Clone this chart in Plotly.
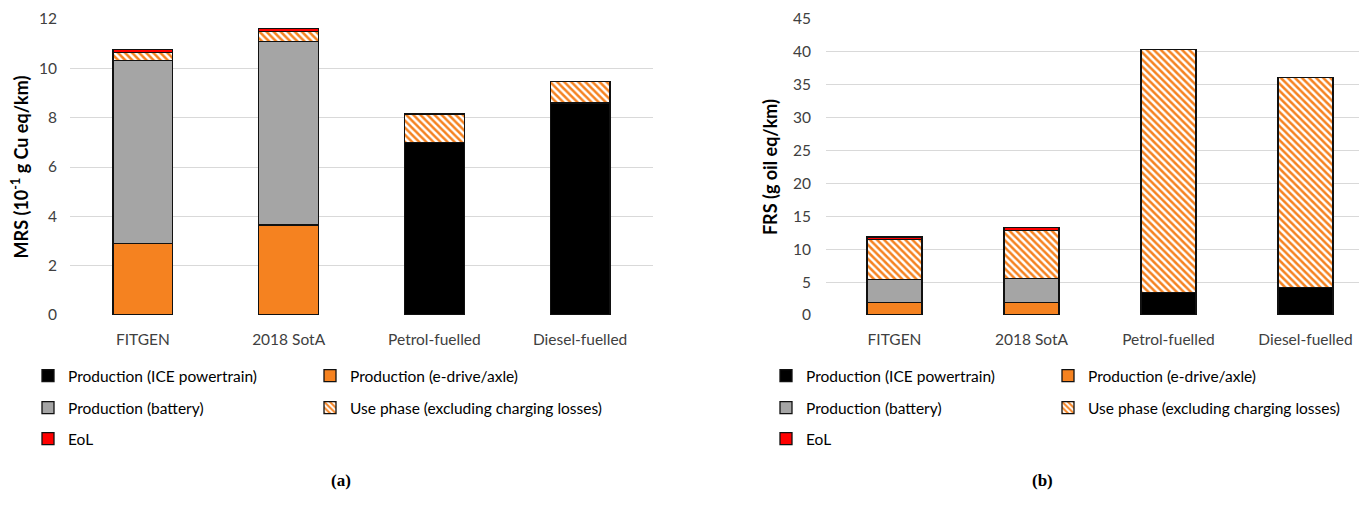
import plotly.graph_objects as go

categories = ["FITGEN", "2018 SotA", "Petrol-fuelled", "Diesel-fuelled"]
series_names = ["Production (ICE powertrain)", "Production (e-drive/axle)",
                "Production (battery)", "Use phase (excluding charging losses)", "EoL"]

# Panel (a): MRS (10^-1 g Cu eq/km)
mrs_ice = [0, 0, 7.0, 8.6]
mrs_edrive = [2.9, 3.65, 0, 0]
mrs_battery = [7.42, 7.44, 0, 0]
mrs_use = [0.32, 0.40, 1.15, 0.88]
mrs_eol = [0.12, 0.12, 0, 0]

# Panel (b): FRS (g oil eq/km)
frs_ice = [0, 0, 3.4, 4.2]
frs_edrive = [1.9, 1.95, 0, 0]
frs_battery = [3.45, 3.55, 0, 0]
frs_use = [6.15, 7.4, 37.0, 31.9]
frs_eol = [0.35, 0.4, 0, 0]

yticks_a = [0, 2, 4, 6, 8, 10, 12]
yticks_b = [0, 5, 10, 15, 20, 25, 30, 35, 40, 45]

ORANGE = "#F58220"
GREY = "#A5A5A5"
RED = "#FF0000"
BLACK = "#000000"
FONT = "Lato"

styles = [
    dict(color=BLACK),
    dict(color=ORANGE),
    dict(color=GREY),
    dict(color="white", pattern=dict(shape="\\", fgcolor=ORANGE, bgcolor="white",
                                     size=5, solidity=0.5, fillmode="replace",
                                     fgopacity=1)),
    dict(color=RED),
]
# legend grid position of each series: (column, row)
legend_cells = [(0, 0), (1, 0), (0, 1), (1, 1), (0, 2)]

# page body has an 8px margin: figure sized to fit the window exactly
OFF = 8
W, H = 1367 - 2 * OFF, 509 - 2 * OFF
def px_x(p):
    return (p - OFF) / W
def px_y(p):
    return 1 - (p - OFF) / H

fig = go.Figure()

panels = [
    ("x", "y", [mrs_ice, mrs_edrive, mrs_battery, mrs_use, mrs_eol], 0.41, 28),
    ("x2", "y2", [frs_ice, frs_edrive, frs_battery, frs_use, frs_eol], 0.40, 766),
]
rows_y = [376, 408, 439]
col_dx = 282
layout_legends = {}
n = 0
for xa, ya, data, bw, lx in panels:
    for i, (name, vals) in enumerate(zip(series_names, data)):
        n += 1
        key = "legend" if n == 1 else f"legend{n}"
        m = dict(styles[i])
        m["line"] = dict(color="#111111", width=1.3)
        fig.add_trace(go.Bar(
            x=categories, y=vals, name=name, xaxis=xa, yaxis=ya,
            marker=m, width=bw, legend=key, hoverinfo="skip",
        ))
        c, r = legend_cells[i]
        layout_legends[key] = dict(
            x=px_x(lx + c * col_dx), y=px_y(rows_y[r]), xanchor="left", yanchor="middle",
            orientation="h",
            font=dict(family=FONT, size=15.5, color="#000000"),
            bgcolor="rgba(0,0,0,0)", itemwidth=30,
            itemclick=False, itemdoubleclick=False,
        )

ydom = [px_y(315), px_y(19)]
tickfont = dict(family=FONT, size=15.5, color="#404040")
titlefont = dict(family=FONT, size=18, color="#000000")
grid = "#D9D9D9"

cat_px_b = 137.0
xb0, xb1 = 826, 1367 - OFF
range_b_end = -0.5 + (xb1 - xb0) / cat_px_b

fig.update_layout(
    width=W, height=H, autosize=False,
    margin=dict(l=0, r=0, t=0, b=0),
    paper_bgcolor="white", plot_bgcolor="white",
    barmode="stack", bargap=0.59,
    showlegend=True,
    xaxis=dict(domain=[px_x(70), px_x(653)], tickfont=tickfont, showgrid=False,
               zeroline=False, showline=False, ticks="", automargin=False,
               range=[-0.5, 3.5], ticklabelstandoff=13),
    yaxis=dict(domain=ydom, range=[0, 12], tickvals=yticks_a, tickfont=tickfont,
               gridcolor=grid, gridwidth=1, zeroline=False, showline=False,
               automargin=False, ticklabelstandoff=12,
               title=dict(text="<b>MRS (10<sup>-1</sup> g Cu eq/km)</b>",
                          font=titlefont, standoff=10)),
    xaxis2=dict(domain=[px_x(xb0), px_x(xb1)], anchor="y2", tickfont=tickfont, showgrid=False,
                zeroline=False, showline=False, ticks="", automargin=False,
                range=[-0.5, range_b_end], ticklabelstandoff=13),
    yaxis2=dict(domain=ydom, anchor="x2", range=[0, 45], tickvals=yticks_b, tickfont=tickfont,
                gridcolor=grid, gridwidth=1, zeroline=False, showline=False,
                automargin=False, ticklabelstandoff=14,
                title=dict(text="<b>FRS (g oil eq/km)</b>", font=titlefont, standoff=10)),
    annotations=[
        dict(text="<b>(a)</b>", x=px_x(329), y=px_y(492), xref="paper", yref="paper",
             showarrow=False, font=dict(family="Liberation Serif", size=17, color="#000000")),
        dict(text="<b>(b)</b>", x=px_x(1055), y=px_y(492), xref="paper", yref="paper",
             showarrow=False, font=dict(family="Liberation Serif", size=17, color="#000000")),
    ],
    **layout_legends,
)

fig.write_html("out.html", config={"responsive": False})
